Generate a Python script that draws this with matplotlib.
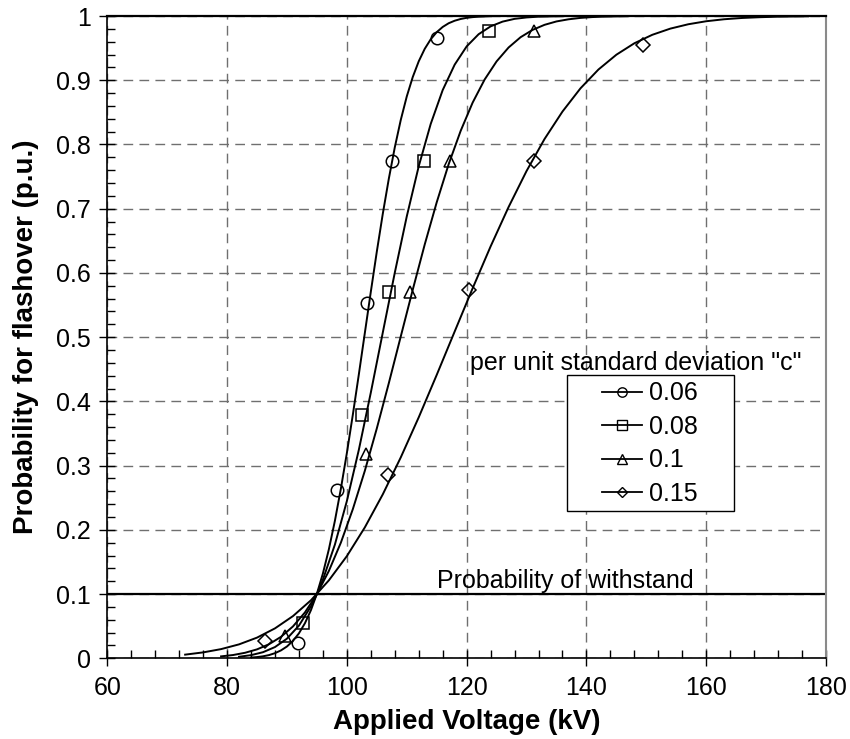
import matplotlib
matplotlib.use('Agg')
import matplotlib.pyplot as plt
from matplotlib.lines import Line2D
from matplotlib.patches import Rectangle
from matplotlib.ticker import MultipleLocator, FuncFormatter

plt.rcParams['font.family'] = ['Liberation Sans', 'DejaVu Sans']

# curves: applied voltage (kV) vs probability
x_006 = [84, 85, 86, 87, 88, 89, 90, 91, 92, 93, 94, 95, 96, 97, 98, 99, 100,
         101, 102, 103, 104, 105, 106, 107, 108, 109, 110, 111, 112, 113, 114,
         115, 116, 117, 118, 119, 120, 121, 122, 124]
y_006 = [0.0011, 0.0019, 0.0031, 0.0050, 0.0080, 0.0123, 0.0184, 0.0271,
         0.0389, 0.0546, 0.0749, 0.1006, 0.1320, 0.1698, 0.2139, 0.2640,
         0.3195, 0.3794, 0.4420, 0.5064, 0.5706, 0.6331, 0.6921, 0.7464,
         0.7954, 0.8382, 0.8747, 0.9050, 0.9295, 0.9489, 0.9638, 0.9749,
         0.9830, 0.9888, 0.9927, 0.9954, 0.9972, 0.9983, 0.9990, 0.9997]

x_008 = [82, 84, 86, 88, 90, 92, 94, 95, 96, 98, 100, 102, 104, 106, 108, 110,
         112, 114, 116, 118, 120, 122, 124, 126, 128, 130, 132, 136]
y_008 = [0.0024, 0.0049, 0.0095, 0.0175, 0.0306, 0.0509, 0.0809, 0.1000,
         0.1224, 0.1770, 0.2448, 0.3246, 0.4137, 0.5072, 0.6002, 0.6879,
         0.7661, 0.8320, 0.8847, 0.9243, 0.9527, 0.9717, 0.9839, 0.9913,
         0.9956, 0.9978, 0.9990, 0.9998]

x_010 = [79, 81, 83, 85, 87, 89, 91, 93, 95, 97, 99, 101, 103, 105, 107, 109,
         111, 113, 115, 117, 119, 121, 123, 125, 127, 129, 131, 133, 135, 137,
         139, 141, 143, 147]
y_010 = [0.0030, 0.0051, 0.0086, 0.0139, 0.0219, 0.0334, 0.0496, 0.0714,
         0.0999, 0.1361, 0.1801, 0.2323, 0.2919, 0.3579, 0.4282, 0.5011,
         0.5738, 0.6443, 0.7099, 0.7694, 0.8212, 0.8652, 0.9011, 0.9294,
         0.9510, 0.9670, 0.9784, 0.9863, 0.9916, 0.9949, 0.9971, 0.9984,
         0.9991, 0.9998]

x_015 = [73, 76, 79, 82, 85, 88, 91, 94, 97, 100, 103, 106, 109, 112, 115, 118,
         121, 124, 127, 130, 133, 136, 139, 142, 145, 148, 151, 154, 157, 160,
         163, 166, 169, 172, 177]
y_015 = [0.0057, 0.0092, 0.0143, 0.0217, 0.0322, 0.0466, 0.0657, 0.0903,
         0.1214, 0.1591, 0.2038, 0.2553, 0.3128, 0.3752, 0.4412, 0.5088,
         0.5761, 0.6413, 0.7026, 0.7587, 0.8085, 0.8513, 0.8874, 0.9167,
         0.9398, 0.9576, 0.9708, 0.9804, 0.9872, 0.9919, 0.9950, 0.9970,
         0.9982, 0.9990, 0.9996]

# marker positions
mx_006 = [91.8, 98.4, 103.4, 107.6, 115.1]
my_006 = [0.024, 0.262, 0.553, 0.774, 0.966]
mx_008 = [92.6, 102.6, 107.0, 112.8, 123.7]
my_008 = [0.055, 0.379, 0.571, 0.774, 0.976]
mx_010 = [89.6, 103.2, 110.6, 117.3, 131.2]
my_010 = [0.035, 0.318, 0.571, 0.774, 0.976]
mx_015 = [86.4, 106.8, 120.45, 131.3, 149.5]
my_015 = [0.027, 0.286, 0.574, 0.774, 0.955]

labels = ['0.06', '0.08', '0.1', '0.15']
markers = ['o', 's', '^', 'D']
msizes = [9, 9, 9, 7]

curves = [(x_006, y_006), (x_008, y_008), (x_010, y_010), (x_015, y_015)]
marks = [(mx_006, my_006), (mx_008, my_008), (mx_010, my_010), (mx_015, my_015)]

fig = plt.figure(figsize=(8.5, 7.39), dpi=100)
ax = fig.add_axes([0.1262, 0.1092, 0.8456, 0.8691])

ax.set_xlim(60, 180)
ax.set_ylim(0, 1)

ax.grid(True, which='major', color='#6f6f6f', linestyle=(0, (7, 4.5)), lw=1.0)
ax.set_axisbelow(True)

ax.axhline(0.1, color='black', lw=1.6, zorder=2)
ax.text(136.5, 0.101, 'Probability of withstand', ha='center', va='bottom',
        fontsize=18)

handles = []
for (cx, cy), (mx, my), m, ms, lab in zip(curves, marks, markers, msizes, labels):
    ax.plot(cx, cy, color='black', lw=1.4, zorder=3)
    ax.plot(mx, my, linestyle='none', marker=m, markersize=ms,
            markerfacecolor='none', markeredgecolor='black', mew=1.1, zorder=4)
    handles.append(Line2D([], [], color='black', lw=1.3, marker=m,
                          markersize=ms * 0.75, markerfacecolor='none',
                          markeredgecolor='black', mew=1.0))

# legend box and title
ax.add_patch(Rectangle((0.6396, 0.229), 0.2325, 0.212, transform=ax.transAxes,
                       facecolor='white', edgecolor='black', lw=1.0, zorder=5))
ax.text(148.3, 0.46, 'per unit standard deviation "c"', ha='center',
        va='center', fontsize=18)
leg = ax.legend(handles, labels, loc='center', bbox_to_anchor=(0.7551, 0.3344),
                frameon=False, fontsize=18, handlelength=1.6,
                handletextpad=0.25, labelspacing=0.38, borderpad=0.2)
leg.set_zorder(6)

ax.xaxis.set_major_locator(MultipleLocator(20))
ax.xaxis.set_minor_locator(MultipleLocator(4))
ax.yaxis.set_major_locator(MultipleLocator(0.1))
ax.yaxis.set_minor_locator(MultipleLocator(0.02))
ax.yaxis.set_major_formatter(FuncFormatter(lambda v, p: '%g' % round(v, 2)))

ax.tick_params(which='major', direction='inout', length=12, width=1.0,
               labelsize=18, top=False, right=False)
ax.tick_params(axis='x', which='major', pad=7)
ax.tick_params(axis='y', which='major', pad=6)
ax.tick_params(which='minor', direction='in', length=6, width=1.0,
               top=False, right=False)

ax.spines['left'].set_linewidth(1.2)
ax.spines['bottom'].set_linewidth(1.2)
ax.spines['top'].set_linewidth(1.6)
ax.spines['right'].set_color('#8a8a8a')
ax.spines['right'].set_linewidth(1.5)

ax.set_xlabel('Applied Voltage (kV)', fontsize=20, fontweight='bold', labelpad=6)
ax.set_ylabel('Probability for flashover (p.u.)', fontsize=20,
              fontweight='bold', labelpad=12)

fig.savefig('out.png', dpi=100)
